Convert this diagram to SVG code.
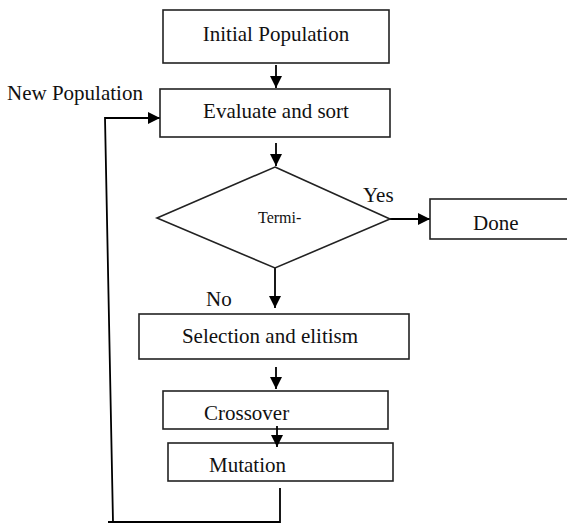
<svg xmlns="http://www.w3.org/2000/svg" width="567" height="523" viewBox="0 0 567 523">
  <style>
    .box { fill: #fff; stroke: #222; stroke-width: 1.6; }
    .wire { fill: none; stroke: #000; stroke-width: 1.8; }
    .lbl { font-family: "Liberation Serif", "Times New Roman", serif; font-size: 21px; fill: #111; }
    .small { font-size: 16px; }
  </style>
  <defs>
    <marker id="arrow" markerUnits="userSpaceOnUse" markerWidth="12" markerHeight="12" viewBox="0 0 12 12" refX="12" refY="6" orient="auto">
      <path d="M0,0 L12,6 L0,12 Z" fill="#000"/>
    </marker>
  </defs>
  <rect width="567" height="523" fill="#fff"/>

  <g id="connectors">
    <line class="wire" x1="276" y1="65" x2="276" y2="88" marker-end="url(#arrow)"/>
    <line class="wire" x1="276" y1="143" x2="276" y2="166" marker-end="url(#arrow)"/>
    <line class="wire" x1="390" y1="219" x2="430" y2="219" marker-end="url(#arrow)"/>
    <line class="wire" x1="275" y1="268" x2="275" y2="308" marker-end="url(#arrow)"/>
    <line class="wire" x1="276" y1="367" x2="276" y2="389" marker-end="url(#arrow)"/>
    <polyline class="wire" points="280,488 280,522 108,522"/>
    <polyline class="wire" points="113,522 105,118 160,118" marker-end="url(#arrow)"/>
  </g>

  <g id="initial-population">
    <rect class="box" x="163" y="10" width="226" height="53"/>
    <text class="lbl" x="276" y="41" text-anchor="middle">Initial Population</text>
  </g>

  <g id="new-population-label">
    <text class="lbl" x="7" y="100">New Population</text>
  </g>

  <g id="evaluate">
    <rect class="box" x="160" y="89" width="230" height="48"/>
    <text class="lbl" x="276" y="118" text-anchor="middle">Evaluate and sort</text>
  </g>

  <g id="terminate">
    <polygon class="box" points="275,167 390,219 275,268 157,218"/>
    <text class="lbl small" x="258" y="223">Termi-</text>
    <text class="lbl" x="363" y="202">Yes</text>
    <text class="lbl" x="206" y="306">No</text>
  </g>

  <g id="done">
    <rect class="box" x="430" y="199" width="145" height="40"/>
    <text class="lbl" x="473" y="230">Done</text>
  </g>

  <g id="selection">
    <rect class="box" x="139" y="314" width="270" height="45"/>
    <text class="lbl" x="270" y="343" text-anchor="middle">Selection and elitism</text>
  </g>

  <g id="crossover">
    <rect class="box" x="163" y="391" width="225" height="38"/>
    <text class="lbl" x="204" y="420">Crossover</text>
  </g>

  <g id="mutation">
    <rect class="box" x="168" y="443" width="225" height="38"/>
    <text class="lbl" x="209" y="472">Mutation</text>
  </g>

  <!-- crossover-to-mutation arrow drawn last so its head sits over the box edge -->
  <g id="connectors-top">
    <line class="wire" x1="277" y1="426" x2="277" y2="447" marker-end="url(#arrow)"/>
  </g>
</svg>
